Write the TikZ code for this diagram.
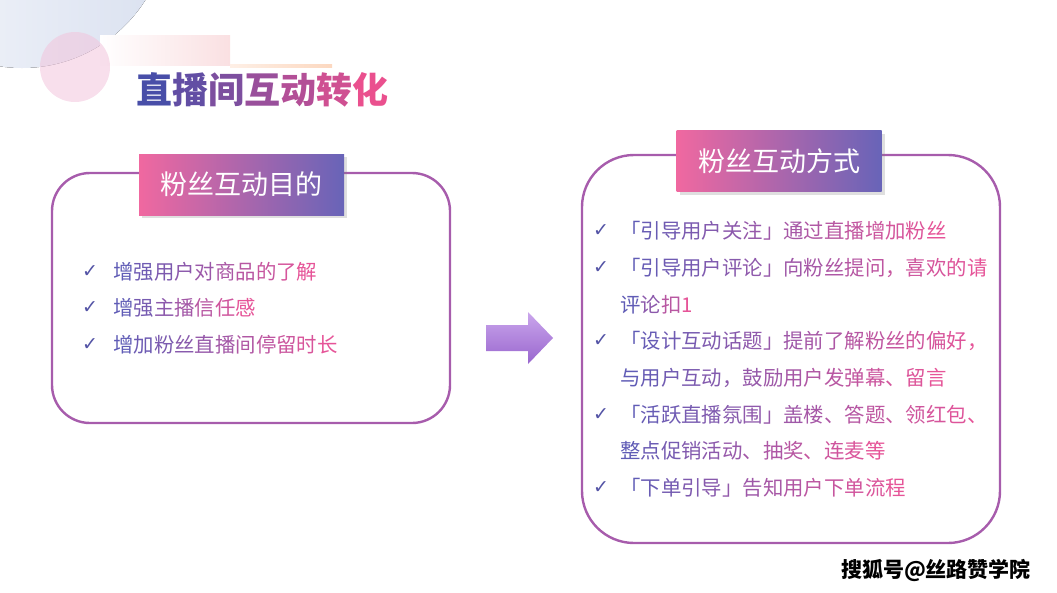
\documentclass[tikz,border=0pt]{standalone}
\usepackage{fontspec}
\setmainfont{Noto Sans CJK SC}
\newfontfamily\symfont{DejaVu Sans}
\usepackage{tikz}
\usetikzlibrary{positioning,shadows}

\definecolor{boxline}{RGB}{167,92,172}
\definecolor{headpink}{RGB}{240,104,160}
\definecolor{headblue}{RGB}{104,100,184}
\definecolor{textblue}{RGB}{96,92,182}
\definecolor{textpink}{RGB}{230,84,152}
\definecolor{titleblue}{RGB}{72,78,168}
\definecolor{titlepink}{RGB}{234,80,142}
\definecolor{checkblue}{RGB}{84,84,166}
\definecolor{arrowtop}{RGB}{203,166,236}
\definecolor{arrowbot}{RGB}{152,102,206}
\definecolor{decoblue}{RGB}{218,225,240}
\definecolor{decopink}{RGB}{242,196,220}
\definecolor{barpink}{RGB}{250,224,226}
\definecolor{barorange}{RGB}{252,216,192}

% one colour per character, from #1 to #2
\makeatletter
\newcount\grad@n
\newcount\grad@i
\def\grad@count#1{\@tfor\grad@c:=#1\do{\global\advance\grad@n by 1 }}
\def\grad@paint#1{\@tfor\grad@c:=#1\do{%
    \pgfmathtruncatemacro\grad@p{100*\grad@i/max(\grad@n-1,1)}%
    \textcolor{\grad@to!\grad@p!\grad@from}{\grad@c}%
    \global\advance\grad@i by 1 }}
\newcommand\gradtext[3]{%
  \def\grad@from{#1}\def\grad@to{#2}%
  \edef\grad@s{#3}%
  \global\grad@n=0 \global\grad@i=0 %
  \expandafter\grad@count\expandafter{\grad@s}%
  \expandafter\grad@paint\expandafter{\grad@s}%
}
\makeatother

\tikzset{
  roundbox/.style={draw=boxline, line width=2.4pt, fill=white},
  headbox/.style={left color=headpink, right color=headblue, text=white,
    minimum width=205pt, minimum height=61pt, inner sep=0pt,
    drop shadow={shadow xshift=3pt, shadow yshift=-3pt, opacity=.25, fill=black!50},
    font=\fontsize{27}{30}\selectfont},
  checkmark/.style={text=checkblue, inner sep=0pt, font=\symfont\fontsize{19}{22}\selectfont},
  itemtext/.style={anchor=west, inner sep=0pt, font=\fontsize{20.4}{24}\selectfont},
}

\begin{document}
\begin{tikzpicture}[x=1pt, y=-1pt]
  \useasboundingbox (0,0) rectangle (1057,592);
  %decoration top left
  \begin{scope}
    \clip (0,0) rectangle (1057,592);
    \fill[left color=decoblue!25, right color=decoblue] (22,-78) circle (146);
    \fill[left color=white, right color=barpink] (100,35) rectangle (230,65);
    \fill[decopink, opacity=.55] (75,67) circle (35);
    \fill[left color=barorange!40, right color=barorange] (230,64) rectangle (332,67);
  \end{scope}

  %title
  \node[inner sep=0pt, font=\bfseries\fontsize{36}{40}\selectfont] (title) at (262,90)
    {\gradtext{titleblue}{titlepink}{直播间互动转化}};

  %left box
  \draw[roundbox, rounded corners=38pt] (52,173) rectangle (450,423);
  \node[headbox] (goalhead) at (241.5,184.5) {粉丝互动目的};
  \foreach \y/\t [count=\i] in {272/增强用户对商品的了解, 308/增强主播信任感, 345/增加粉丝直播间停留时长}{
    \node[checkmark] (goalcheck\i) at (90,\y) {✓};
    \node[itemtext] (goal\i) at (113,\y) {\gradtext{textblue}{textpink}{\t}};
  }

  %arrow
  \path[top color=arrowtop, bottom color=arrowbot]
    (486,325) -- (528,325) -- (528,312) -- (553,338) -- (528,364) -- (528,351) -- (486,351) -- cycle;

  %right box
  \draw[roundbox, rounded corners=52pt] (582,155) rectangle (1000,543);
  \node[headbox] (wayhead) at (779,161) {粉丝互动方式};
  \foreach \y in {231,268,341,415,488}
    \node[checkmark] at (601,\y) {✓};
  \foreach \y/\t [count=\i] in {231/「引导用户关注」通过直播增加粉丝, 268/「引导用户评论」向粉丝提问，喜欢的请,
      305/评论扣1, 341/「设计互动话题」提前了解粉丝的偏好，, 378/与用户互动，鼓励用户发弹幕、留言,
      415/「活跃直播氛围」盖楼、答题、领红包、, 451/整点促销活动、抽奖、连麦等, 488/「下单引导」告知用户下单流程}
    \node[itemtext] (way\i) at (620,\y) {\gradtext{textblue}{textpink}{\t}};

  %watermark
  \node[inner sep=0pt, font=\bfseries\fontsize{21}{24}\selectfont] (mark) at (936,570) {搜狐号@丝路赞学院};
\end{tikzpicture}
\end{document}
